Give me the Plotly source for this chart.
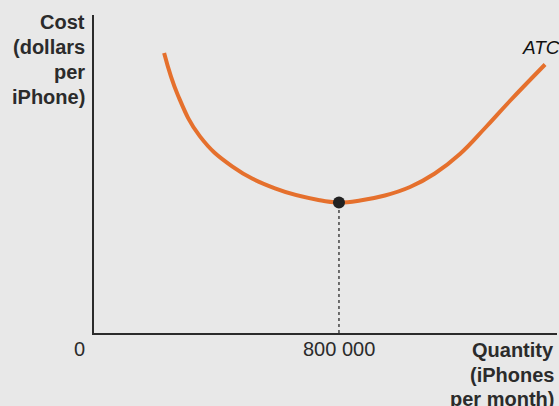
import plotly.graph_objects as go

# Average total cost curve (quantity in iPhones per month, cost in dollars per iPhone)
quantity = [229000, 274000, 346000, 451000, 591000, 738000, 800000,
            869000, 950000, 1032000, 1113000, 1195000, 1277000, 1358000,
            1473000]
atc_cost = [280, 237.8, 196.6, 166.7, 144.6, 132.7, 130.5,
            132.5, 137.5, 146, 159.5, 179, 205, 232,
            268.5]

# Minimum-cost point
min_quantity = 800000
min_cost = 130.5

x_tick_labels = ["0", "800 000"]
y_title_lines = ["Cost", "(dollars", "per", "iPhone)"]
x_title_lines = ["Quantity", "(iPhones", "per month)"]

BG = "#e8e8e8"
INK = "#2b2b2b"
ORANGE = "#e5702d"
FONT = "Liberation Sans, Arial, sans-serif"

W, H = 559, 406
M_L, M_R, M_T, M_B = 94, 2, 15, 73
PLOT_H = H - M_T - M_B


def paper_y(py):
    """Convert a pixel row (from the top of the page) to paper y."""
    return (H - M_B - py) / PLOT_H


def paper_x(px):
    return (px - M_L) / (W - M_L - M_R)


fig = go.Figure()

# Dotted drop line from the minimum down to the quantity axis
fig.add_trace(go.Scatter(
    x=[min_quantity, min_quantity], y=[0, min_cost],
    mode="lines", line=dict(color="#444444", width=1.5, dash="dot"),
    hoverinfo="skip", showlegend=False,
))

# ATC curve
fig.add_trace(go.Scatter(
    x=quantity, y=atc_cost, mode="lines",
    line=dict(color=ORANGE, width=4, shape="spline", smoothing=1.2),
    showlegend=False,
))

# Minimum point marker
fig.add_trace(go.Scatter(
    x=[min_quantity], y=[min_cost], mode="markers",
    marker=dict(color="#222222", size=12),
    showlegend=False,
))

annotations = []

# Vertical axis title, right-aligned against the axis
for i, line in enumerate(y_title_lines):
    annotations.append(dict(
        text=f"<b>{line}</b>", xref="paper", yref="paper",
        x=paper_x(87), y=paper_y(22 + 25 * i),
        xanchor="right", yanchor="middle", showarrow=False,
        font=dict(size=20, color=INK, family=FONT)))

# Horizontal axis title, bottom right
for i, line in enumerate(x_title_lines):
    annotations.append(dict(
        text=f"<b>{line}</b>", xref="paper", yref="paper",
        x=paper_x(556), y=paper_y(350 + 24.5 * i),
        xanchor="right", yanchor="middle", showarrow=False,
        font=dict(size=20, color=INK, family=FONT)))

# Curve label
annotations.append(dict(
    text="<i>ATC</i>", xref="paper", yref="paper",
    x=paper_x(541), y=paper_y(48), xanchor="center", yanchor="middle",
    showarrow=False, font=dict(size=19, color="#111111", family=FONT)))

# Quantity labels: origin (set left of the corner) and the minimum-cost quantity
annotations.append(dict(
    text=x_tick_labels[0], xref="x", yref="paper", x=0, y=paper_y(349),
    xanchor="center", yanchor="middle", xshift=-15, showarrow=False,
    font=dict(size=20, color=INK, family=FONT)))
annotations.append(dict(
    text=x_tick_labels[1], xref="x", yref="paper", x=min_quantity,
    y=paper_y(349), xanchor="center", yanchor="middle", showarrow=False,
    font=dict(size=20, color=INK, family=FONT)))

fig.update_layout(
    width=W, height=H,
    margin=dict(l=M_L, r=M_R, t=M_T, b=M_B),
    paper_bgcolor=BG, plot_bgcolor=BG,
    font=dict(family=FONT, color=INK),
    xaxis=dict(
        range=[0, 1512000], showgrid=False, zeroline=False,
        showline=True, linecolor=INK, linewidth=1.5,
        showticklabels=False, ticks="",
    ),
    yaxis=dict(
        range=[0, 318], showgrid=False, zeroline=False,
        showline=True, linecolor=INK, linewidth=1.5,
        showticklabels=False, ticks="",
    ),
    annotations=annotations,
)

fig.write_html("out.html")
